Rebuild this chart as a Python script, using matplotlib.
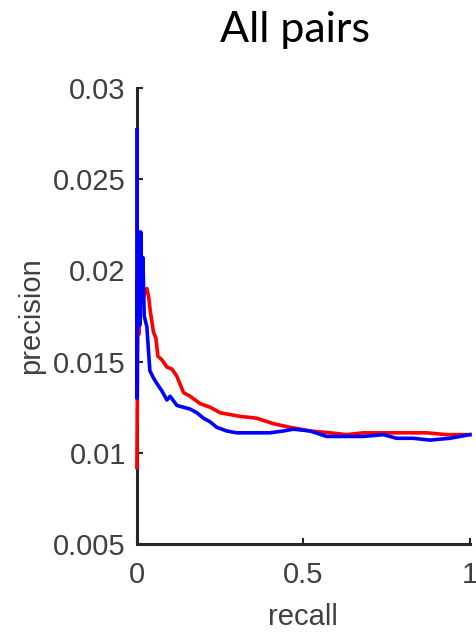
import matplotlib
matplotlib.use("Agg")
import matplotlib.pyplot as plt

# precision/recall curves
recall_blue = [0, 0, 0.003, 0.006, 0.009, 0.012, 0.015, 0.018, 0.022, 0.026, 0.03,
               0.034, 0.039, 0.05, 0.06, 0.075, 0.09, 0.1, 0.12, 0.14, 0.16, 0.18,
               0.2, 0.22, 0.24, 0.27, 0.3, 0.34, 0.4, 0.44, 0.47, 0.52, 0.57,
               0.62, 0.68, 0.74, 0.78, 0.83, 0.88, 0.94, 1.0]
prec_blue = [0.0277, 0.013, 0.0205, 0.0221, 0.017, 0.0221, 0.0185, 0.0207, 0.0175,
             0.0172, 0.0169, 0.0158, 0.0145, 0.0141, 0.0138, 0.0134, 0.0129, 0.0131,
             0.0126, 0.0125, 0.0124, 0.0122, 0.0119, 0.0117, 0.0114, 0.0112, 0.0111,
             0.0111, 0.0111, 0.0112, 0.0113, 0.0112, 0.0109, 0.0109, 0.0109, 0.011,
             0.0108, 0.0108, 0.0107, 0.0108, 0.011]

recall_red = [0, 0.003, 0.006, 0.01, 0.02, 0.025, 0.03, 0.035, 0.04, 0.05, 0.057,
              0.063, 0.075, 0.09, 0.105, 0.12, 0.14, 0.16, 0.19, 0.22, 0.25, 0.28,
              0.31, 0.36, 0.41, 0.46, 0.52, 0.58, 0.63, 0.68, 0.73, 0.78, 0.87,
              0.93, 1.0]
prec_red = [0.0092, 0.018, 0.0165, 0.018, 0.0185, 0.0189, 0.019, 0.0186, 0.0178,
            0.0166, 0.0163, 0.0153, 0.0151, 0.0147, 0.0146, 0.0142, 0.0133, 0.0131,
            0.0127, 0.0125, 0.0122, 0.0121, 0.012, 0.0119, 0.0116, 0.0114, 0.0112,
            0.0111, 0.011, 0.0111, 0.0111, 0.0111, 0.0111, 0.011, 0.011]

xticks = [0, 0.5, 1]
xtick_labels = ["0", "0.5", "1"]
yticks = [0.005, 0.01, 0.015, 0.02, 0.025, 0.03]
ytick_labels = ["0.005", "0.01", "0.015", "0.02", "0.025", "0.03"]

fig = plt.figure(figsize=(4.77, 6.32), dpi=100)
ax = fig.add_axes([0.287, 0.139, 0.698, 0.722])

ax.plot(recall_red, prec_red, color="#ff0000", lw=2.6, zorder=3, clip_on=False)
ax.plot(recall_blue, prec_blue, color="#0000ff", lw=2.6, zorder=4, clip_on=False)

ax.set_xlim(0, 1)
ax.set_ylim(0.005, 0.03)
ax.set_xticks(xticks)
ax.set_xticklabels(xtick_labels)
ax.set_yticks(yticks)
ax.set_yticklabels(ytick_labels)

for s in ["top", "right"]:
    ax.spines[s].set_visible(False)
for s in ["left", "bottom"]:
    ax.spines[s].set_linewidth(2.2)
    ax.spines[s].set_color("#262626")
    ax.spines[s].set_zorder(2)

ax.tick_params(direction="in", length=4, width=1.5, colors="#262626",
               labelcolor="#404040", labelsize=21)
ax.tick_params(axis="x", pad=12)
ax.tick_params(axis="y", pad=8)
for lab in ax.get_xticklabels() + ax.get_yticklabels():
    lab.set_family("Liberation Sans")

ax.set_xlabel("recall", fontsize=21, color="#404040", family="Liberation Sans", labelpad=10)
ax.set_ylabel("precision", fontsize=21, color="#404040", family="Liberation Sans", labelpad=6)

fig.text(0.618, 0.953, "All pairs", fontsize=31, family="Lato", ha="center", va="center")

fig.savefig("out.png", dpi=100)
